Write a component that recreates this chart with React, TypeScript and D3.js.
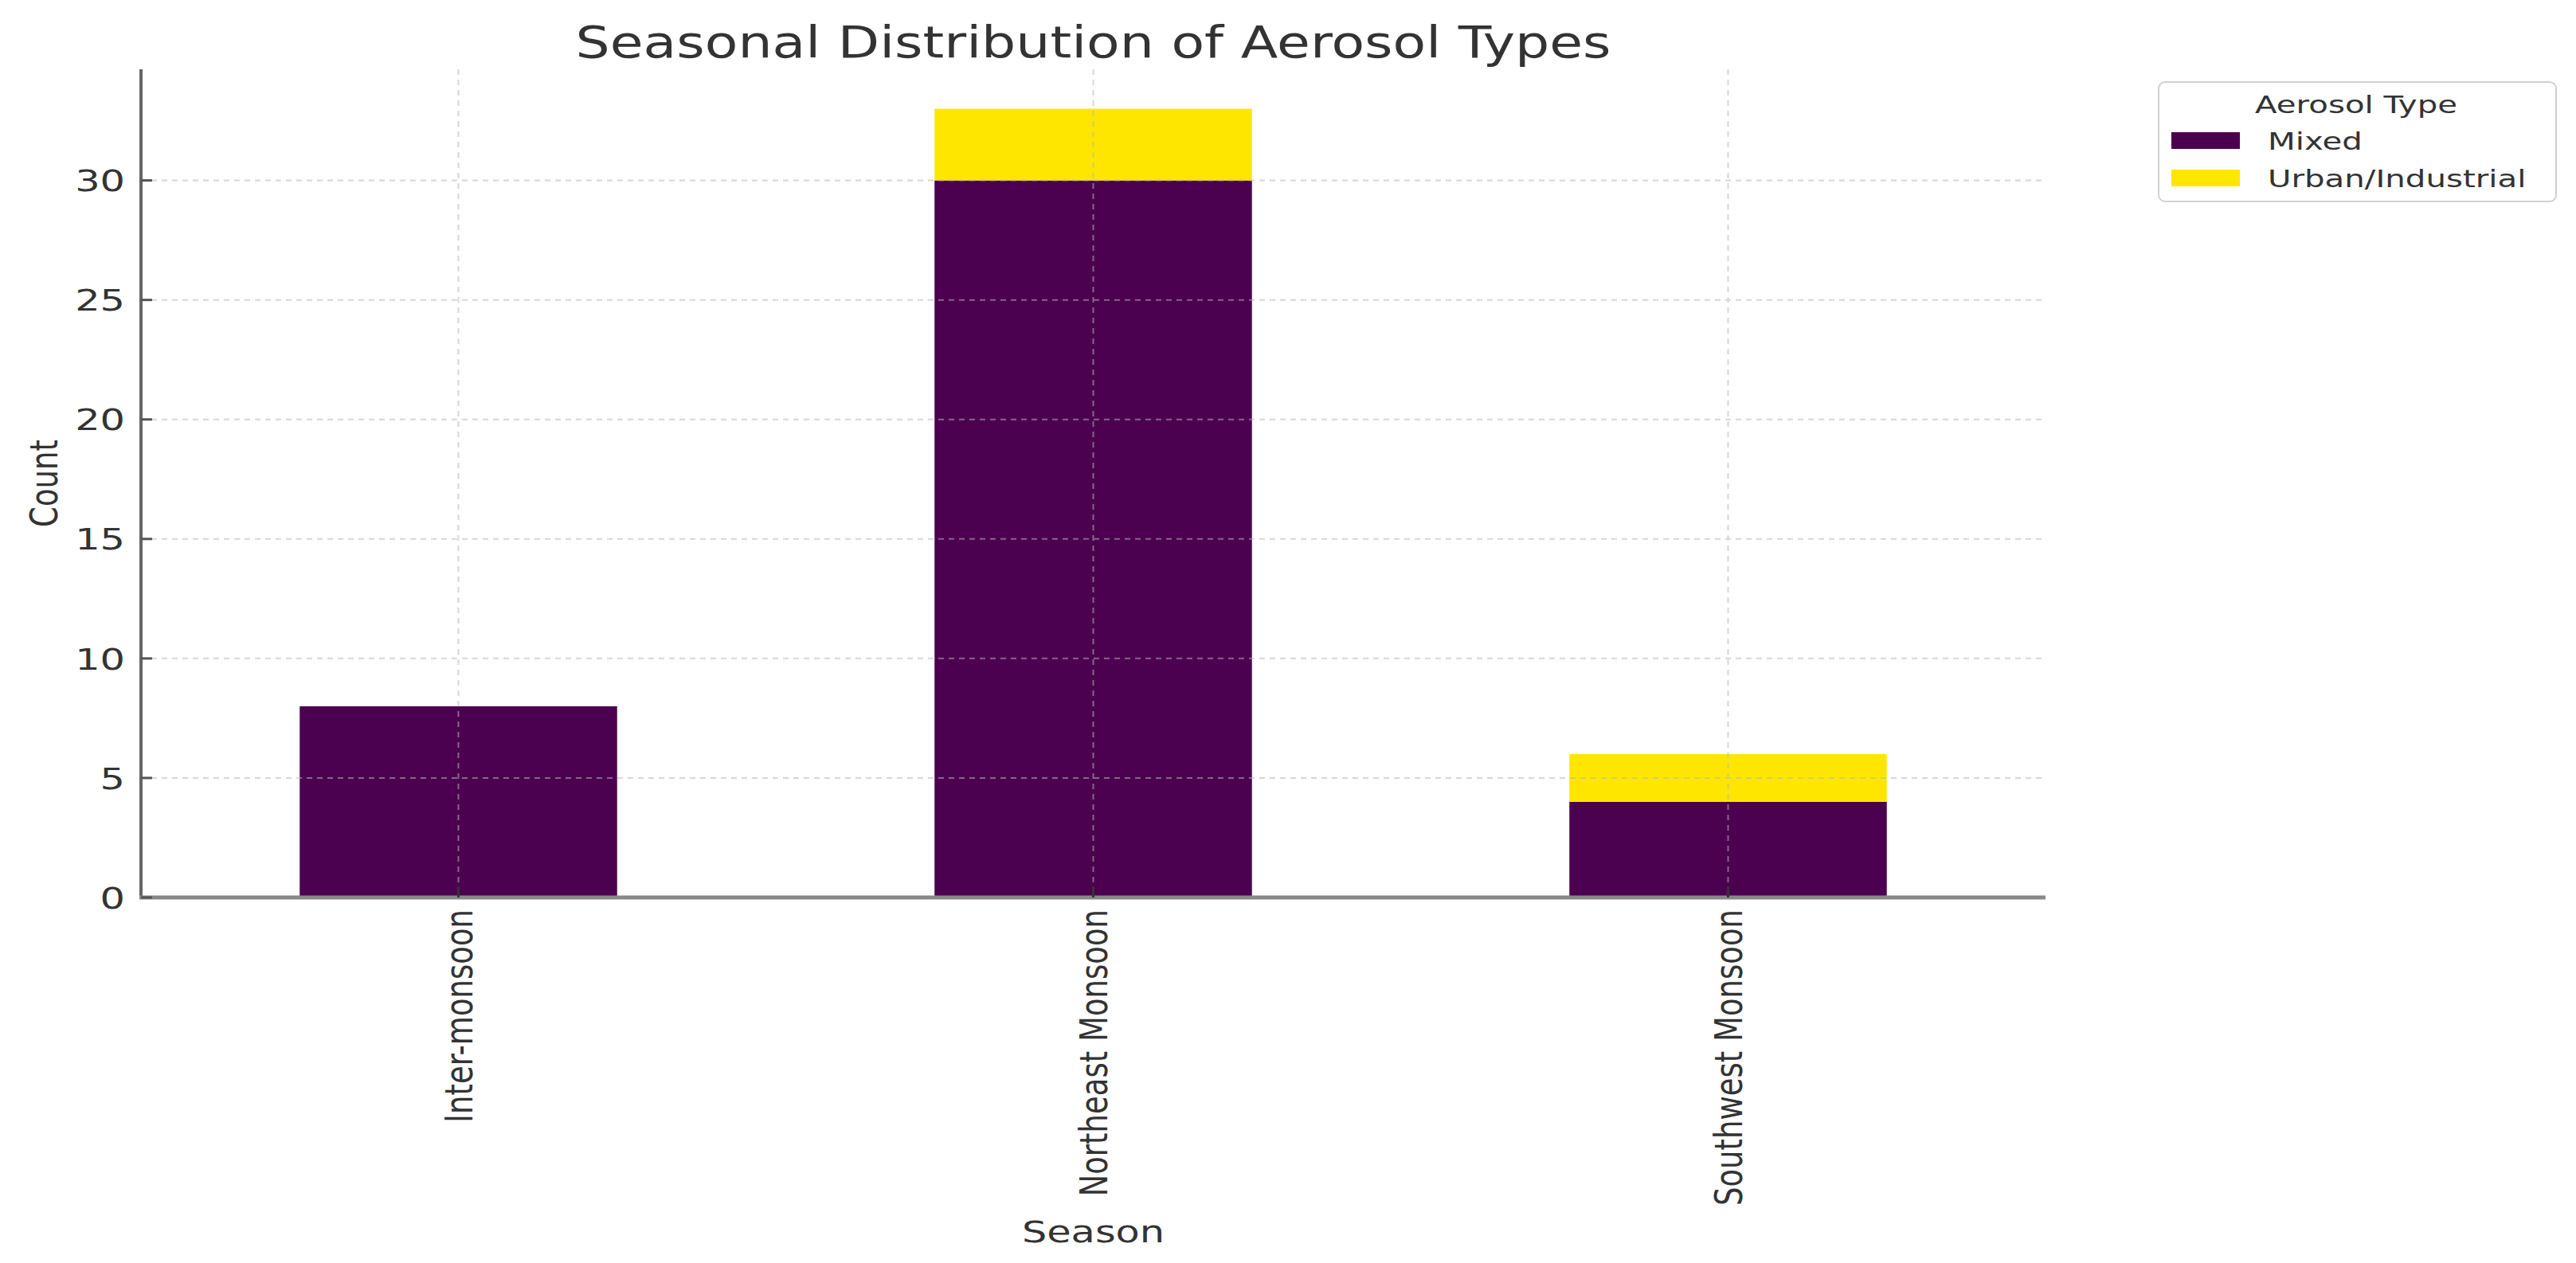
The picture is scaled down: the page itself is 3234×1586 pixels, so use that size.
import * as d3 from "d3"

const seasons = ["Inter-monsoon", "Northeast Monsoon", "Southwest Monsoon"]
const aerosolTypes = ["Mixed", "Urban/Industrial"]
const mixedCounts = [8, 30, 4]
const urbanCounts = [0, 3, 2]
const yTicks = [0, 5, 10, 15, 20, 25, 30]

const colors = ["#4b0150", "#ffe600"]

const W = 3234
const H = 1586
const plot = { left: 177, right: 2568, top: 87, bottom: 1127 }
// the source picture is stretched sideways, so text gets a horizontal stretch
const SX = 1.3
const font = "DejaVu Sans"

export default function App() {
  const rows = seasons.map((s, i) => ({ season: s, Mixed: mixedCounts[i], "Urban/Industrial": urbanCounts[i] }))
  const stacked = d3.stack<any>().keys(aerosolTypes)(rows)
  const maxTotal = d3.max(rows, (r) => r.Mixed + r["Urban/Industrial"]) as number

  const x = d3.scaleBand().domain(seasons).range([plot.left, plot.right]).paddingInner(0.5).paddingOuter(0.25)
  const y = d3.scaleLinear().domain([0, maxTotal * 1.05]).range([plot.bottom, plot.top])
  const color = d3.scaleOrdinal<string>().domain(aerosolTypes).range(colors)

  const grid = { stroke: "#b8b8b8", strokeWidth: 2, strokeDasharray: "7,6", opacity: 0.55 }

  return (
    <svg width={W} height={H} style={{ position: "absolute", left: 0, top: 0, background: "#fff" }} fontFamily={font}>
      {/* Bars */}
      {stacked.map((layer) => (
        <g key={layer.key} fill={color(layer.key)}>
          {layer.map((d, i) =>
            d[1] - d[0] > 0 ? (
              <rect
                key={i}
                x={x(seasons[i])}
                y={y(d[1])}
                width={x.bandwidth()}
                height={y(d[0]) - y(d[1])}
              />
            ) : null,
          )}
        </g>
      ))}

      {/* Grid on top of bars */}
      <g {...grid}>
        {yTicks.map((t) => (
          <line key={t} x1={plot.left} x2={plot.right} y1={y(t)} y2={y(t)} />
        ))}
        {seasons.map((s) => {
          const cx = (x(s) as number) + x.bandwidth() / 2
          return <line key={s} x1={cx} x2={cx} y1={plot.top} y2={plot.bottom} />
        })}
      </g>

      {/* Spines */}
      <line x1={plot.left} x2={plot.left} y1={plot.top} y2={plot.bottom + 2} stroke="#666" strokeWidth={4} />
      <line x1={plot.left - 2} x2={plot.right} y1={plot.bottom} y2={plot.bottom} stroke="#888" strokeWidth={5} />

      {/* Y ticks */}
      {yTicks.map((t) => (
        <g key={t}>
          <line x1={plot.left} x2={plot.left + 14} y1={y(t)} y2={y(t)} stroke="#555" strokeWidth={3} />
          <g transform={`translate(${plot.left - 20},${y(t)}) scale(${SX},1)`}>
            <text textAnchor="end" dy="0.36em" fontSize={38} fill="#333">
              {t}
            </text>
          </g>
        </g>
      ))}

      {/* X ticks */}
      {seasons.map((s) => {
        const cx = (x(s) as number) + x.bandwidth() / 2
        return (
          <g key={s}>
            <line x1={cx} x2={cx} y1={plot.bottom} y2={plot.bottom - 14} stroke="#333" strokeWidth={3} />
            <g transform={`translate(${cx},${plot.bottom + 15}) scale(${SX},1) rotate(-90)`}>
              <text textAnchor="end" dy="0.36em" fontSize={37} fill="#333">
                {s}
              </text>
            </g>
          </g>
        )
      })}

      {/* Axis labels */}
      <g transform={`translate(72,${(plot.top + plot.bottom) / 2}) scale(${SX},1) rotate(-90)`}>
        <text textAnchor="middle" fontSize={37} fill="#333">
          Count
        </text>
      </g>
      <g transform={`translate(${(plot.left + plot.right) / 2},1560) scale(${SX},1)`}>
        <text textAnchor="middle" fontSize={38} fill="#333">
          Season
        </text>
      </g>

      {/* Title */}
      <g transform={`translate(${(plot.left + plot.right) / 2},72)`}>
        <text textAnchor="middle" fontSize={55} fill="#333" textLength={1300} lengthAdjust="spacingAndGlyphs">
          Seasonal Distribution of Aerosol Types
        </text>
      </g>

      {/* Legend */}
      <g>
        <rect x={2710} y={103} width={499} height={150} rx={8} fill="#fff" fillOpacity={0.8} stroke="#d0d0d0" strokeWidth={2} />
        <g transform={`translate(2958,142) scale(${SX},1)`}>
          <text textAnchor="middle" fontSize={31} fill="#333">
            Aerosol Type
          </text>
        </g>
        {aerosolTypes.map((k, i) => (
          <g key={k}>
            <rect x={2726} y={166 + i * 47} width={86} height={21} fill={color(k)} />
            <g transform={`translate(2847,${188 + i * 47}) scale(${SX},1)`}>
              <text fontSize={31} fill="#333">
                {k}
              </text>
            </g>
          </g>
        ))}
      </g>
    </svg>
  )
}
